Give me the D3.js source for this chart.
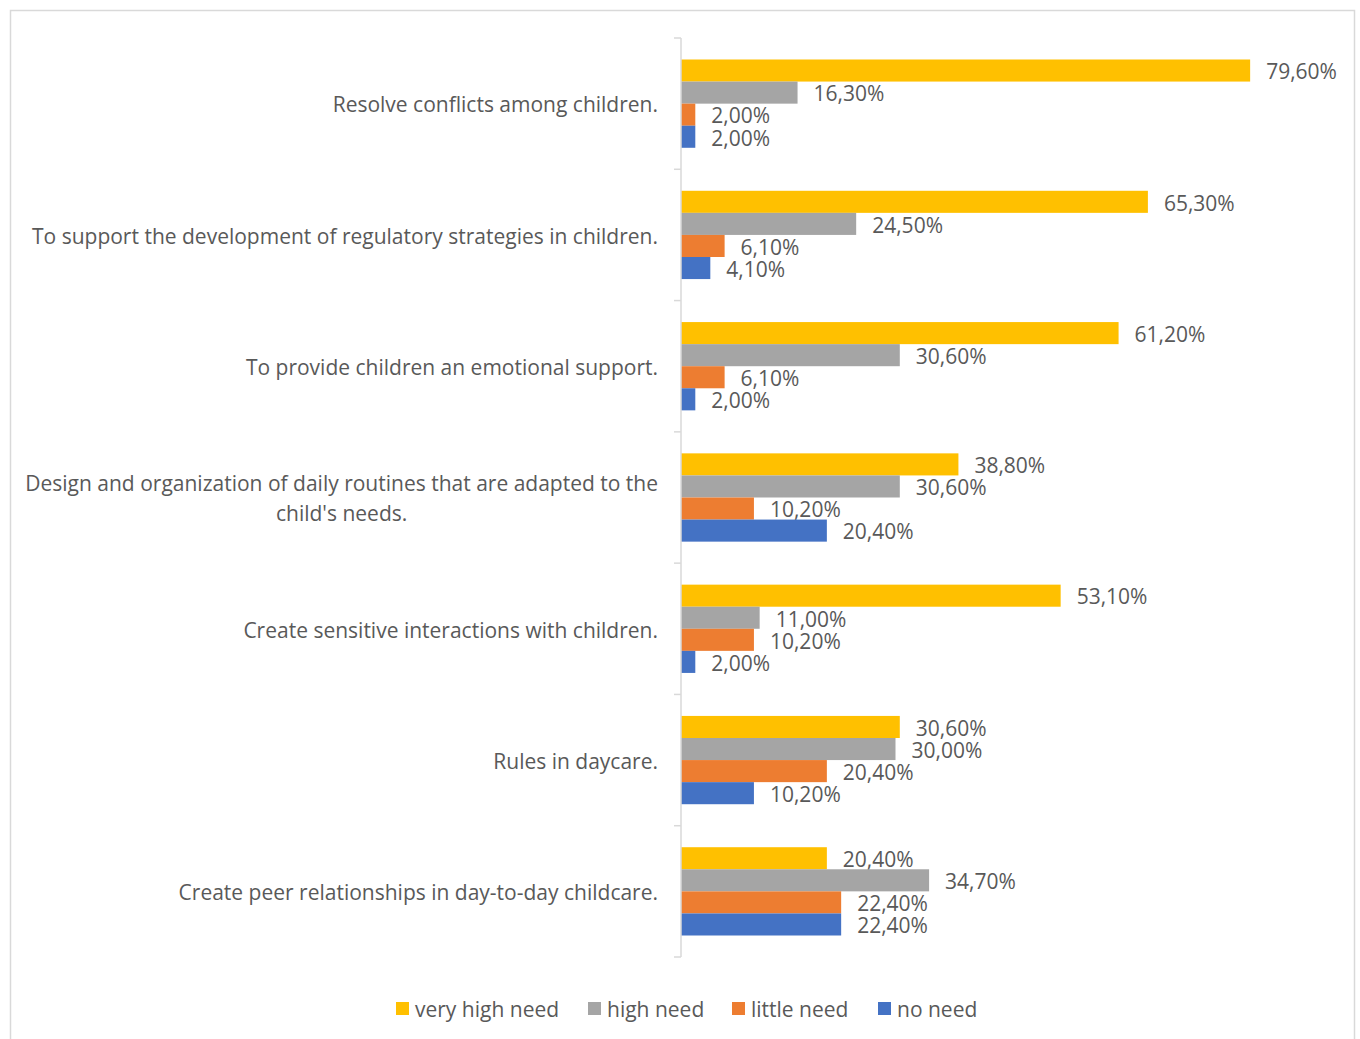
<!DOCTYPE html>
<html>
<head>
<meta charset="utf-8">
<script src="https://cdn.jsdelivr.net/npm/d3@7"></script>
<style>
  html, body { margin: 0; padding: 0; background: #fff; }
  svg { display: block; }
  text { font-family: "Open Sans", Lato, sans-serif; fill: #595959; }
</style>
</head>
<body>
<svg id="chart" width="1360" height="1039"></svg>
<script>
// Survey items, top to bottom
const categories = [
  "Resolve conflicts among children.",
  "To support the development of regulatory strategies in children.",
  "To provide children an emotional support.",
  "Design and organization of daily routines that are adapted to the child's needs.",
  "Create sensitive interactions with children.",
  "Rules in daycare.",
  "Create peer relationships in day-to-day childcare."
];
const seriesNames = ["very high need", "high need", "little need", "no need"];
const seriesColors = ["#FFC000", "#A5A5A5", "#ED7D31", "#4472C4"];
// Percentages per series, in category order
const veryHigh = [79.6, 65.3, 61.2, 38.8, 53.1, 30.6, 20.4];
const high     = [16.3, 24.5, 30.6, 30.6, 11.0, 30.0, 34.7];
const little   = [2.0, 6.1, 6.1, 10.2, 10.2, 20.4, 22.4];
const none     = [2.0, 4.1, 2.0, 20.4, 2.0, 10.2, 22.4];
const series = [veryHigh, high, little, none];

// Wrapped label lines for long items
const labelLines = {
  "Design and organization of daily routines that are adapted to the child's needs.":
    ["Design and organization of daily routines that are adapted to the", "child's needs."]
};

const FS = 21;
const svg = d3.select("#chart");

// outer chart frame
svg.append("rect")
  .attr("x", 10.5).attr("y", 10.5)
  .attr("width", 1344).attr("height", 1040)
  .attr("fill", "none").attr("stroke", "#d9d9d9").attr("stroke-width", 1.5);

const x0 = 681;
const x = d3.scaleLinear().domain([0, 100]).range([x0, x0 + 715]);
const y = d3.scaleBand().domain(categories).range([38, 957]);
// four bars per category, with an empty margin above and below the group
const inner = d3.scaleBand().domain(d3.range(4))
  .range([21.5, y.bandwidth() - 21.5]);

const fmt = v => d3.format(".2f")(v).replace(".", ",") + "%";

const groups = svg.append("g").selectAll("g")
  .data(categories)
  .join("g")
  .attr("transform", d => `translate(0,${y(d)})`);

groups.each(function(cat, ci) {
  const g = d3.select(this);
  series.forEach((vals, si) => {
    const v = vals[ci];
    g.append("rect")
      .attr("x", x(0))
      .attr("y", inner(si))
      .attr("width", x(v) - x(0))
      .attr("height", inner.bandwidth())
      .attr("fill", seriesColors[si]);
    g.append("text")
      .attr("x", x(v) + 16)
      .attr("y", inner(si) + inner.bandwidth() / 2)
      .attr("dy", "0.42em")
      .attr("font-size", FS)
      .text(fmt(v));
  });
});

// category axis
const axis = d3.axisLeft(y).tickSize(0).tickFormat("");
const axisG = svg.append("g").attr("transform", `translate(${x0},0)`).call(axis);
axisG.select(".domain").attr("stroke", "#d9d9d9").attr("stroke-width", 1.5)
  .attr("d", `M0,38V957`);
// boundary ticks between categories
const bounds = categories.map(c => y(c)).concat([y.range()[1]]);
axisG.selectAll(".bound").data(bounds).join("line")
  .attr("class", "bound")
  .attr("x1", -7).attr("x2", 0)
  .attr("y1", d => d).attr("y2", d => d)
  .attr("stroke", "#d9d9d9").attr("stroke-width", 1.5);

// category labels
const labelRight = 658;
categories.forEach(cat => {
  const lines = labelLines[cat] || [cat];
  const cy = y(cat) + y.bandwidth() / 2;
  const lh = 30;
  const t = svg.append("text").attr("font-size", FS);
  if (lines.length === 1) {
    t.attr("x", labelRight).attr("y", cy).attr("dy", "0.42em")
      .attr("text-anchor", "end").text(lines[0]);
  } else {
    t.attr("text-anchor", "middle");
    // centre every line on the widest one, which ends at the axis side
    const probe = svg.append("text").attr("font-size", FS).text(lines[0]);
    const w = probe.node().getComputedTextLength();
    probe.remove();
    const cx = labelRight - w / 2;
    lines.forEach((ln, i) => {
      t.append("tspan")
        .attr("x", cx)
        .attr("y", cy + (i - (lines.length - 1) / 2) * lh)
        .attr("dy", "0.42em")
        .text(ln);
    });
  }
});

// legend
const legendX = [396, 588, 732, 878];
const legend = svg.append("g").selectAll("g")
  .data(seriesNames)
  .join("g")
  .attr("transform", (d, i) => `translate(${legendX[i]},1002)`);
legend.append("rect")
  .attr("width", 13).attr("height", 13)
  .attr("fill", (d, i) => seriesColors[i]);
legend.append("text")
  .attr("x", 19).attr("y", 6.5).attr("dy", "0.42em")
  .attr("font-size", FS)
  .text(d => d);
</script>
</body>
</html>
